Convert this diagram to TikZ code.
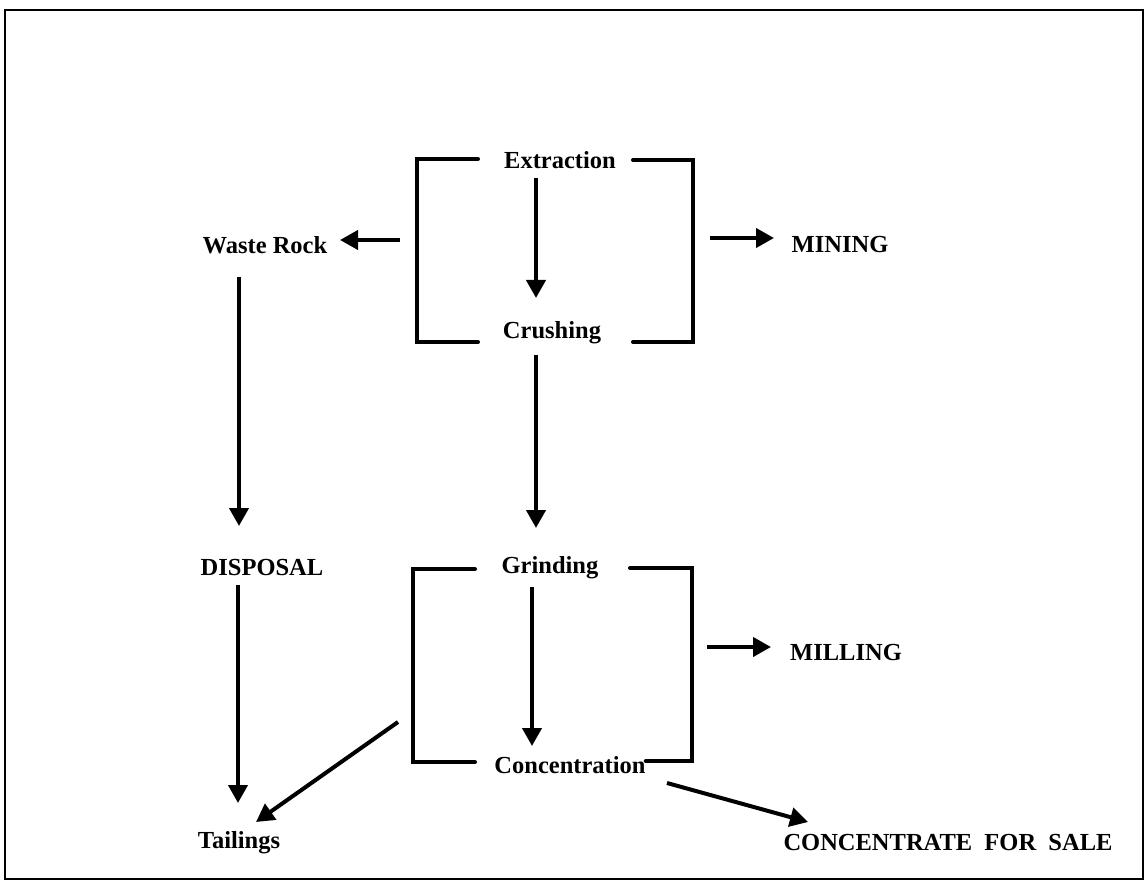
\documentclass[tikz,border=0pt]{standalone}
\usepackage{fontspec}
\setmainfont{Liberation Serif}
\usetikzlibrary{arrows.meta}
\begin{document}
\begin{tikzpicture}[x=1pt,y=-1pt,
  label/.style={font=\fontsize{24.5}{28}\selectfont\bfseries, inner sep=0pt, anchor=center},
  bracket/.style={line width=4pt, line cap=round, line join=miter},
  flow/.style={line width=4pt, -{Triangle[width=19pt,length=18pt]}},
  frame/.style={line width=2.5pt}]
\useasboundingbox (0,0) rectangle (1146,882);
\draw[frame] (5,10) rectangle (1143,879);

% process labels
\node[label] (extr) at (560,160) {Extraction};
\node[label] (crush) at (552,333) {Crushing};
\node[label] (grind) at (550,568) {Grinding};
\node[label] (conc) at (570,765) {Concentration};
\node[label] (waste) at (265,245) {Waste Rock};
\node[label] (disp) at (262,568) {DISPOSAL};
\node[label] (tail) at (239,843) {Tailings};
\node[label] (mining) at (840,245) {MINING};
\node[label] (milling) at (846,653) {MILLING};
\node[label] (sale) at (948,843) {CONCENTRATE\ \ FOR\ \ SALE};

% mining bracket
\draw[bracket] (478,159) -- (417,159) -- (417,342) -- (478,342);
\draw[bracket] (633,160) -- (693,160) -- (693,342) -- (633,342);
% milling bracket
\draw[bracket] (475,569) -- (413,569) -- (413,762) -- (475,762);
\draw[bracket] (630,568) -- (692,568) -- (692,761) -- (conc.east |- 692,761);

% arrow end points
\coordinate (e1) at (536,178);  \coordinate (c1) at (536,298);
\coordinate (c2) at (536,355);  \coordinate (g1) at (536,528);
\coordinate (g2) at (532,587);  \coordinate (k1) at (532,746);
\coordinate (w0) at (400,240);  \coordinate (w1) at (340,240);
\coordinate (w2) at (239,277);  \coordinate (d1) at (239,526);
\coordinate (d2) at (238,585);  \coordinate (t1) at (238,803);
\coordinate (t0) at (398,722);  \coordinate (t2) at (256,822);
\coordinate (k2) at (667,783);  \coordinate (s1) at (808,822);
\coordinate (m0) at (710,238);  \coordinate (m1) at (774,238);
\coordinate (l0) at (707,647);  \coordinate (l1) at (771,647);

\draw[flow] (e1) -- (c1);
\draw[flow] (c2) -- (g1);
\draw[flow] (g2) -- (k1);
\draw[flow] (w0) -- (w1);
\draw[flow] (w2) -- (d1);
\draw[flow] (d2) -- (t1);
\draw[flow] (t0) -- (t2);
\draw[flow] (k2) -- (s1);
\draw[flow] (m0) -- (m1);
\draw[flow] (l0) -- (l1);
\end{tikzpicture}
\end{document}
